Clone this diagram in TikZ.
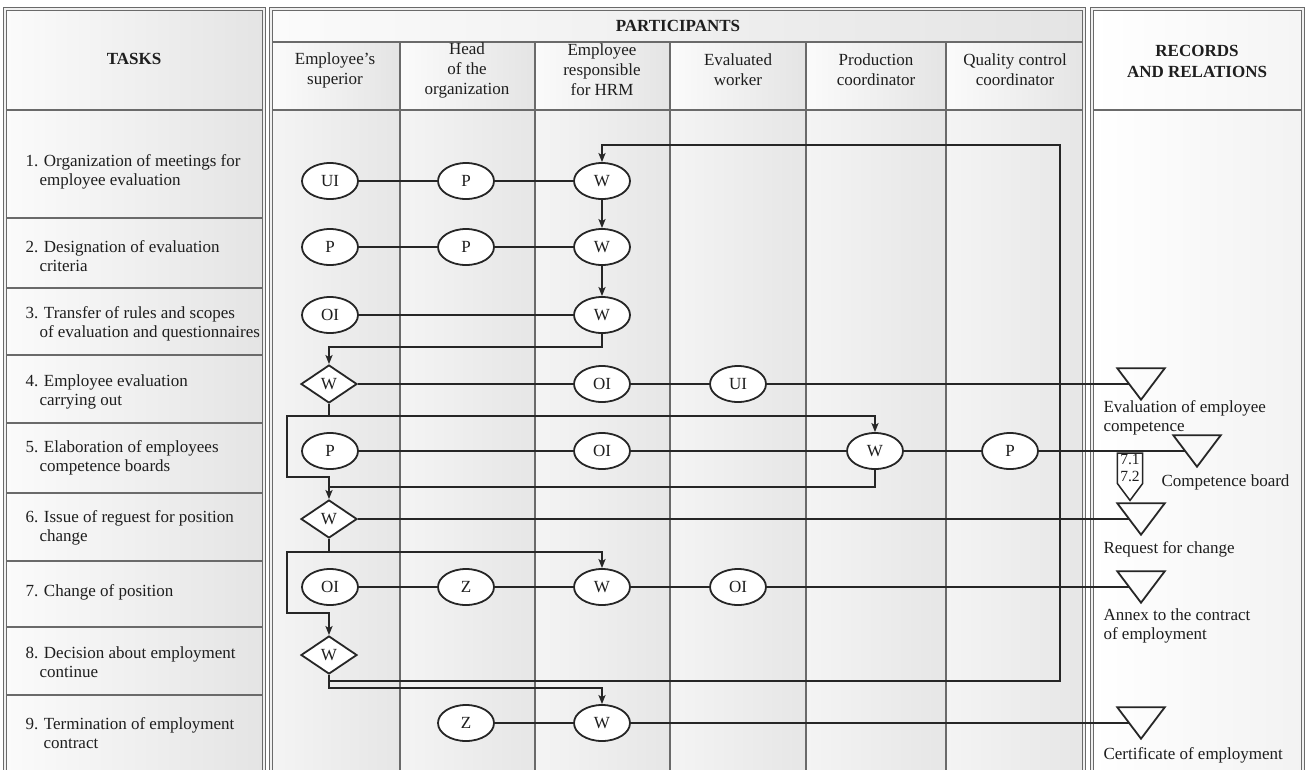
\documentclass[tikz,border=0pt]{standalone}
\usepackage{fontspec}
\setmainfont{Liberation Serif}
\usetikzlibrary{shapes.geometric,arrows.meta,calc}
\definecolor{gridc}{HTML}{6A6A6A}
\definecolor{linec}{HTML}{262626}
\definecolor{txtc}{HTML}{1E1E1E}
\definecolor{cellL}{HTML}{FBFBFB}
\definecolor{cellR}{HTML}{E4E4E4}
\definecolor{bodyL}{HTML}{F4F4F4}
\definecolor{bodyR}{HTML}{E6E6E6}

\begin{document}
\begin{tikzpicture}[x=1pt,y=-1pt,
  base/.style={font=\fontsize{17}{19.5}\selectfont, text=txtc},
  head/.style={base, font=\fontsize{17}{21}\selectfont\bfseries},
  colh/.style={base, font=\fontsize{17}{20}\selectfont, align=center},
  task/.style={base, align=left, anchor=west},
  recl/.style={base, align=left, anchor=west},
  cell/.style={left color=cellL, right color=cellR},
  body/.style={left color=bodyL, right color=bodyR},
  gridl/.style={draw=gridc, line width=1.9},
  frame/.style={draw=gridc, line width=1.2, double=gray!12, double distance=1.3},
  act/.style={ellipse, draw=linec, line width=1.8, fill=white,
              minimum width=56, minimum height=36, inner sep=0, base},
  dec/.style={diamond, draw=linec, line width=1.8, fill=white,
              minimum width=56, minimum height=38, inner sep=0, base},
  rec/.style={minimum width=47, minimum height=31, inner sep=0},
  link/.style={draw=linec, line width=1.7},
  flow/.style={draw=linec, line width=2.4},
  tip/.style={-{Stealth[length=9pt,width=7pt,inset=2pt]}},
]
\useasboundingbox (0,0) rectangle (1308,769);
\clip (0,0) rectangle (1308,769);
\fill[white] (0,0) rectangle (1308,769);

% ---------- backgrounds ----------
\shade[cell] (5,9) rectangle (264,110);
\foreach \a/\b in {110/218,218/288,288/355,355/423,423/493,493/561,561/627,627/695,695/780}
  \shade[cell] (5,\a) rectangle (264,\b);
\shade[cell] (271,9) rectangle (1084,42);
\foreach \a/\b in {271/400,400/535,535/670,670/806,806/946,946/1084}{
  \shade[cell] (\a,42) rectangle (\b,110);
  \shade[body] (\a,110) rectangle (\b,780);
}
\shade[left color=white, right color=gray!8] (1092,9) rectangle (1303,110);
\shade[left color=white, right color=gray!10] (1092,110) rectangle (1303,780);

% ---------- grid ----------
\foreach \y in {110,218,288,355,423,493,561,627,695}
  \draw[gridl] (5,\y) -- (264,\y);
\draw[gridl] (271,42) -- (1084,42);
\draw[gridl] (271,110) -- (1084,110);
\foreach \x in {400,535,670,806,946}
  \draw[gridl] (\x,42) -- (\x,780);
\draw[gridl] (1092,110) -- (1303,110);
\draw[frame] (5,9) rectangle (264,790);
\draw[frame] (271,9) rectangle (1084,790);
\draw[frame] (1092,9) rectangle (1303,790);

% ---------- headers ----------
\node[head] at (134,59) {TASKS};
\node[head] at (678,26) {PARTICIPANTS};
\node[head, align=center] at (1197,61) {RECORDS\\AND RELATIONS};
\node[colh] at (335,70) {Employee's\\superior};
\node[colh] at (467,70) {Head\\of the\\organization};
\node[colh] at (602,70) {Employee\\responsible\\for HRM};
\node[colh] at (738,70) {Evaluated\\worker};
\node[colh] at (876,70) {Production\\coordinator};
\node[colh] at (1015,70) {Quality control\\coordinator};

% ---------- tasks ----------
\node[task] at (22,172) {1. Organization of meetings for\\\hspace*{14pt}employee evaluation};
\node[task] at (22,256) {2. Designation of evaluation\\\hspace*{14pt}criteria};
\node[task] at (22,324) {3. Transfer of rules and scopes\\\hspace*{14pt}of evaluation and questionnaires};
\node[task] at (22,392) {4. Employee evaluation\\\hspace*{14pt}carrying out};
\node[task] at (22,458) {5. Elaboration of employees\\\hspace*{14pt}competence boards};
\node[task] at (22,528) {6. Issue of reguest for position\\\hspace*{14pt}change};
\node[task] at (22,592) {7. Change of position};
\node[task] at (22,662) {8. Decision about employment\\\hspace*{14pt}continue};
\node[task] at (22,733) {9. Termination of employment\\\hspace*{18pt}contract};

% ---------- activities ----------
\node[act] (a1) at (330,181) {UI};
\node[act] (a2) at (466,181) {P};
\node[act] (a3) at (602,181) {W};
\node[act] (b1) at (330,247) {P};
\node[act] (b2) at (466,247) {P};
\node[act] (b3) at (602,247) {W};
\node[act] (c1) at (330,315) {OI};
\node[act] (c3) at (602,315) {W};
\node[dec] (d1) at (329,384) {W};
\node[act] (d3) at (602,384) {OI};
\node[act] (d4) at (738,384) {UI};
\node[act] (e1) at (330,451) {P};
\node[act] (e3) at (602,451) {OI};
\node[act] (e5) at (875,451) {W};
\node[act] (e6) at (1010,451) {P};
\node[dec] (f1) at (329,519) {W};
\node[act] (g1) at (330,587) {OI};
\node[act] (g2) at (466,587) {Z};
\node[act] (g3) at (602,587) {W};
\node[act] (g4) at (738,587) {OI};
\node[dec] (h1) at (329,655) {W};
\node[act] (i2) at (466,723) {Z};
\node[act] (i3) at (602,723) {W};

% ---------- records ----------
\node[rec] (t1) at (1141,384) {};
\node[rec] (t2) at (1197,451) {};
\node[rec] (t3) at (1141,519) {};
\node[rec] (t4) at (1141,587) {};
\node[rec] (t5) at (1141,723) {};
\foreach \t in {t1,t2,t3,t4,t5}
  \draw[link, line width=1.8] (\t.north west) -- (\t.north east) -- (\t.south) -- cycle;
\node[recl] at (1100,418) {Evaluation of employee\\competence};
\node[recl] at (1158,482) {Competence board};
\node[recl] at (1100,549) {Request for change};
\node[recl] at (1100,626) {Annex to the contract\\of employment};
\node[recl] at (1100,755) {Certificate of employment};

% off-page reference
\node[inner sep=0, minimum width=25, minimum height=30, anchor=north] (sg) at (1130,453) {};
\filldraw[link, fill=white, line width=1.5] (sg.north west) -- (sg.north east) -- (sg.south east)
  -- ($(sg.south)+(0,17)$) -- (sg.south west) -- cycle;
\node[base, font=\fontsize{15.5}{17.5}\selectfont, align=center, inner sep=0] at (sg.center) {7.1\\7.2};

% ---------- plain links ----------
\draw[link] (a1) -- (a2) -- (a3);
\draw[link] (b1) -- (b2) -- (b3);
\draw[link] (c1) -- (c3);
\draw[link] (d1) -- (d3) -- (d4);
\draw[link] (d4) -- ($(t1.north west)!0.5!(t1.south)$);
\draw[link] (e1) -- (e3) -- (e5) -- (e6);
\draw[link] (e6) -- ($(t2.north west)!0.5!(t2.south)$);
\draw[link] (f1) -- ($(t3.north west)!0.5!(t3.south)$);
\draw[link] (g1) -- (g2) -- (g3) -- (g4);
\draw[link] (g4) -- ($(t4.north west)!0.5!(t4.south)$);
\draw[link] (i2) -- (i3);
\draw[link] (i3) -- ($(t5.north west)!0.5!(t5.south)$);

% ---------- control flow ----------
\coordinate (k3) at (329,347);
\coordinate (k4) at (329,416);
\coordinate (k4l) at (287,416);
\coordinate (k5l) at (287,477);
\coordinate (k5m) at (329,477);
\coordinate (k5r) at (329,487);
\coordinate (k6) at (329,552);
\coordinate (k6l) at (287,552);
\coordinate (k7l) at (287,613);
\coordinate (k7m) at (329,613);
\coordinate (k8a) at (329,681);
\coordinate (k8b) at (329,688);
\coordinate (k8r) at (1060,681);
\coordinate (k1r) at (1060,145);

\draw[flow, tip] (a3) -- (b3);
\draw[flow, tip] (b3) -- (c3);
\draw[flow, tip] (c3.south) |- (k3) -- (d1.north);
\draw[flow] (d1.south) -- (k4);
\draw[flow, tip] (k4) -| (e5.north);
\draw[flow, tip] (k4) -- (k4l) -- (k5l) -- (k5m) -- (f1.north);
\draw[flow] (e5.south) |- (k5r);
\draw[flow] (f1.south) -- (k6);
\draw[flow, tip] (k6) -| (g3.north);
\draw[flow, tip] (k6) -- (k6l) -- (k7l) -- (k7m) -- (h1.north);
\draw[flow, tip] (h1.south) -- (k8b) -| (i3.north);
\draw[flow, tip] (k8a) -- (k8r) -- (k1r) -| (a3.north);
\end{tikzpicture}
\end{document}
